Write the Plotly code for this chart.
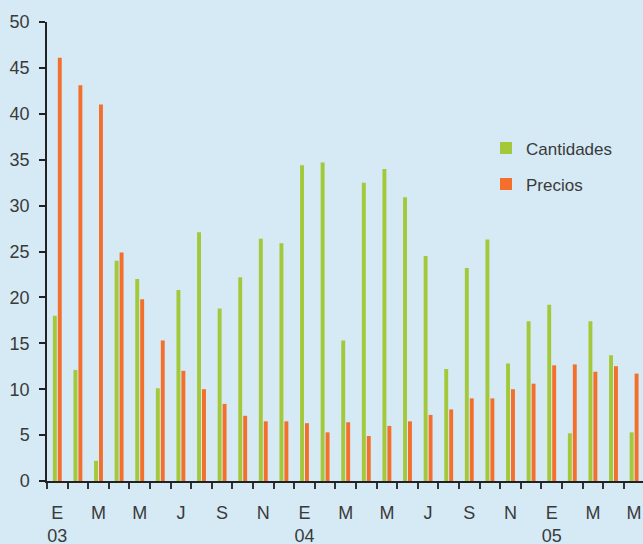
import plotly.graph_objects as go

# Monthly data, Jan 2003 .. May 2005
months = list(range(29))
cantidades = [18.0, 12.1, 2.2, 24.0, 22.0, 10.1, 20.8, 27.1, 18.8, 22.2, 26.4, 25.9,
              34.4, 34.7, 15.3, 32.5, 34.0, 30.9, 24.5, 12.2, 23.2, 26.3, 12.8, 17.4,
              19.2, 5.2, 17.4, 13.7, 5.3]
precios = [46.1, 43.1, 41.0, 24.9, 19.8, 15.3, 12.0, 10.0, 8.4, 7.1, 6.5, 6.5,
           6.3, 5.3, 6.4, 4.9, 6.0, 6.5, 7.2, 7.8, 9.0, 9.0, 10.0, 10.6,
           12.6, 12.7, 11.9, 12.5, 11.7]
tick_labels = ["E<br>03", "M", "M", "J", "S", "N", "E<br>04", "M", "M", "J", "S", "N",
               "E<br>05", "M", "M"]
y_ticks = [0, 5, 10, 15, 20, 25, 30, 35, 40, 45, 50]

GREEN = "#a3c93a"
ORANGE = "#f36f2b"
BG = "#d5eaf5"
TXT = "#3a3a3a"
FONT = "Liberation Sans"

fig = go.Figure()
fig.add_trace(go.Bar(x=months, y=cantidades, name="Cantidades", marker_color=GREEN,
                     marker_line_width=0, width=0.19, offset=-0.215, legend="legend"))
fig.add_trace(go.Bar(x=months, y=precios, name="Precios", marker_color=ORANGE,
                     marker_line_width=0, width=0.19, offset=0.025, legend="legend2",
                     xaxis="x2"))

xr = [-0.5, -0.5 + 596 / 20.6]
fig.update_layout(
    width=643, height=544,
    paper_bgcolor=BG, plot_bgcolor=BG,
    margin=dict(l=47, r=0, t=22, b=63),
    font=dict(family=FONT, size=18, color=TXT),
    xaxis=dict(range=xr, tickvals=[m - 0.5 for m in months] + [len(months) - 0.5],
               ticktext=[""] * (len(months) + 1), ticks="outside", ticklen=6,
               tickcolor="#333333", tickwidth=1.5, showline=True, linecolor="#222222",
               linewidth=2, showgrid=False, zeroline=False, automargin=False),
    xaxis2=dict(range=xr, overlaying="x", anchor="y", side="bottom",
                tickvals=months[::2], ticktext=tick_labels, ticks="", showline=False,
                showgrid=False, zeroline=False, ticklabelstandoff=19, automargin=False,
                tickfont=dict(family=FONT, size=18, color=TXT)),
    yaxis=dict(range=[0, 50], tickvals=y_ticks, ticks="outside", ticklen=6,
               tickcolor="#222222", tickwidth=1.5, showline=True, linecolor="#222222",
               linewidth=1.5, showgrid=False, zeroline=False, ticklabelstandoff=6,
               automargin=False, tickfont=dict(family=FONT, size=18, color=TXT)),
    showlegend=True,
    legend=dict(x=(486 - 47) / 596, y=(481 - 148.5) / 459, xanchor="left", yanchor="middle",
                bgcolor="rgba(0,0,0,0)", font=dict(family=FONT, size=17, color=TXT)),
    legend2=dict(x=(486 - 47) / 596, y=(481 - 184.5) / 459, xanchor="left", yanchor="middle",
                 bgcolor="rgba(0,0,0,0)", font=dict(family=FONT, size=17, color=TXT)),
)

fig.write_html(
    "out.html",
    config={"displayModeBar": False},
    post_script="document.body.style.margin='0';document.body.style.background='#d5eaf5';"
                "document.body.style.overflow='hidden';",
)
